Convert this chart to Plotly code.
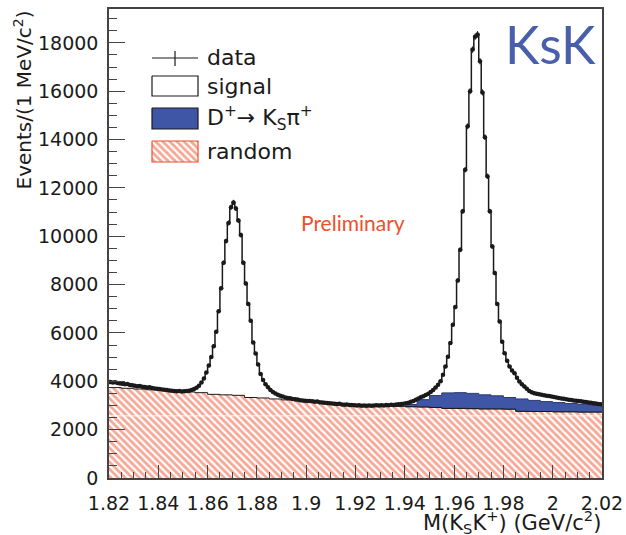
import numpy as np
import plotly.graph_objects as go

W, H = 626, 535

# Mass window and binning (GeV/c^2)
x_lo, x_hi = 1.82, 2.02
fine_width = 0.001      # 1 MeV bins for data / total fit
coarse_width = 0.005    # 5 MeV bins for the background components

# Data: events per 1 MeV bin, 1.820 ... 2.020
data_counts = [
    3970, 3950, 3960, 3930, 3910, 3900, 3880, 3890, 3850, 3840,
    3820, 3800, 3810, 3770, 3760, 3740, 3750, 3720, 3700, 3690,
    3680, 3660, 3650, 3640, 3620, 3610, 3600, 3590, 3600, 3580,
    3590, 3600, 3610, 3640, 3680, 3730, 3820, 3950, 4120, 4360,
    4650, 5000, 5450, 6050, 6900, 7850, 8900, 9800, 10550, 11200,
    11400, 11150, 10650, 10050, 8900, 8050, 7200, 6500, 5600, 5150,
    4700, 4300, 4050, 3880, 3750, 3640, 3560, 3500, 3440, 3400,
    3370, 3330, 3310, 3300, 3270, 3260, 3250, 3220, 3210, 3200,
    3190, 3180, 3170, 3150, 3160, 3130, 3120, 3110, 3100, 3090,
    3080, 3070, 3060, 3070, 3040, 3030, 3040, 3020, 3020, 3010,
    3000, 3010, 2990, 3000, 2990, 3000, 2990, 3000, 3010, 3000,
    3010, 3000, 3020, 3010, 3030, 3020, 3040, 3050, 3060, 3070,
    3090, 3110, 3150, 3190, 3240, 3290, 3340, 3380, 3430, 3490,
    3560, 3640, 3740, 3860, 4000, 4270, 4610, 5020, 5580, 6340,
    7070, 8170, 9440, 11030, 12750, 14550, 16000, 17720, 18250, 18350,
    17240, 15950, 14100, 12480, 11030, 9580, 8480, 7200, 6470, 5640,
    5160, 4850, 4610, 4450, 4330, 4150, 3990, 3880, 3780, 3690,
    3600, 3550, 3510, 3480, 3460, 3440, 3420, 3400, 3390, 3370,
    3350, 3330, 3310, 3290, 3280, 3260, 3240, 3230, 3210, 3200,
    3180, 3170, 3150, 3140, 3120, 3110, 3090, 3080, 3060, 3050,
]

# Random-combination background, 5 MeV bins from 1.820
random_counts = [
    3740, 3710, 3680, 3650, 3620, 3590, 3560, 3530,
    3460, 3440, 3420, 3330, 3310, 3270, 3230, 3190,
    3150, 3120, 3080, 3050, 3020, 3000, 2980, 2960,
    2950, 2940, 2920, 2880, 2880, 2870, 2860, 2860,
    2850, 2760, 2750, 2750, 2740, 2740, 2730, 2730,
]

# D+ -> Ks pi+ peaking background, 5 MeV bins from 1.940
dks_start = 1.94
dks_counts = [
    90, 300, 490, 640, 650, 630, 580, 540,
    480, 510, 460, 410, 380, 340, 320, 290,
]

x_ticks = [1.82, 1.84, 1.86, 1.88, 1.90, 1.92, 1.94, 1.96, 1.98, 2.00, 2.02]
y_ticks = [0, 2000, 4000, 6000, 8000, 10000, 12000, 14000, 16000, 18000]

# Colours
RED = "#ee4f2c"
BLUE = "#3f56a6"
INK = "#1a1a1a"
FRAME = "#444444"

FONT = "DejaVu Sans"
HATCH = dict(shape="\\", fgcolor=RED, bgcolor="white", size=5, solidity=0.55)


def px(x):
    return x / W


def py(y):
    return 1 - y / H


def step_xy(start, width, values):
    edges = start + width * np.arange(len(values) + 1)
    return edges, list(values) + [values[-1]]


data = np.array(data_counts, dtype=float)
centers = x_lo + fine_width * (np.arange(len(data)) + 0.5)

fig = go.Figure()

# Random background (hatched)
rx, ry = step_xy(x_lo, coarse_width, random_counts)
fig.add_trace(go.Scatter(
    x=rx, y=ry, mode="lines", line=dict(shape="hv", color=INK, width=1),
    fill="tozeroy", fillcolor="white", fillpattern=HATCH,
    showlegend=False, hoverinfo="skip",
))

# D+ -> Ks pi+ stacked on the random background
offset = int(round((dks_start - x_lo) / coarse_width))
base = np.array(random_counts[offset:offset + len(dks_counts)], dtype=float)
top = base + np.array(dks_counts, dtype=float)
bx, by = step_xy(dks_start, coarse_width, list(base))
tx, ty = step_xy(dks_start, coarse_width, list(top))
fig.add_trace(go.Scatter(
    x=bx, y=by, mode="lines", line=dict(shape="hv", color=INK, width=1),
    showlegend=False, hoverinfo="skip",
))
fig.add_trace(go.Scatter(
    x=tx, y=ty, mode="lines", line=dict(shape="hv", color="#2c3a70", width=1),
    fill="tonexty", fillcolor=BLUE, showlegend=False, hoverinfo="skip",
))

# Total (signal + backgrounds) histogram
sx, sy = step_xy(x_lo, fine_width, data_counts)
fig.add_trace(go.Scatter(
    x=sx, y=sy, mode="lines", line=dict(shape="hv", color=INK, width=1.5),
    showlegend=False, hoverinfo="skip",
))

# Data points with errors
fig.add_trace(go.Scatter(
    x=centers, y=data, mode="markers",
    marker=dict(color=INK, size=4.5, symbol="circle"),
    error_y=dict(type="data", array=np.sqrt(data), color=INK, thickness=1, width=0),
    error_x=dict(type="constant", value=fine_width / 2, color=INK, thickness=1, width=0),
    showlegend=False, hoverinfo="skip",
))

# Legend symbols, drawn in a pixel-space subplot
leg_x0, leg_x1 = 152, 198
boxes = [
    (76, 96, "white", None),
    (108, 129, BLUE, None),
    (141, 162, "white", RED),
]
fig.add_trace(go.Scatter(
    x=[leg_x0, leg_x1, None, 175, 175], y=[58, 58, None, 51, 66],
    mode="lines", line=dict(color=INK, width=1.2), xaxis="x2", yaxis="y2",
    showlegend=False, hoverinfo="skip",
))
for y0, y1, col, pat in boxes:
    kw = {}
    if pat:
        kw["fillpattern"] = HATCH
    fig.add_trace(go.Scatter(
        x=[leg_x0, leg_x1, leg_x1, leg_x0, leg_x0], y=[y0, y0, y1, y1, y0],
        mode="lines", fill="toself", fillcolor=col,
        line=dict(color=(RED if pat else INK), width=1.2),
        xaxis="x2", yaxis="y2", showlegend=False, hoverinfo="skip", **kw,
    ))

legend_labels = [
    (58, "data"),
    (86, "signal"),
    (118, "D<sup>+</sup>\u2192 K<sub>S</sub>\u03c0<sup>+</sup>"),
    (151, "random"),
]
annotations = []
for y, text in legend_labels:
    annotations.append(dict(
        x=px(205), y=py(y), xref="paper", yref="paper", text=text,
        xanchor="left", yanchor="middle", showarrow=False,
        font=dict(family=FONT, size=22, color=INK),
    ))

annotations += [
    dict(x=px(503), y=py(44), xref="paper", yref="paper", text="KsK",
         xanchor="left", yanchor="middle", showarrow=False,
         font=dict(family="Lato", size=52, color="#4a5fab")),
    dict(x=px(299), y=py(222), xref="paper", yref="paper", text="Preliminary",
         xanchor="left", yanchor="middle", showarrow=False,
         font=dict(family="Lato", size=21, color=RED)),
    dict(x=px(603), y=py(522), xref="paper", yref="paper",
         text="M(K<sub>S</sub>K<sup>+</sup>) (GeV/c<sup>2</sup>)",
         xanchor="right", yanchor="middle", showarrow=False,
         font=dict(family=FONT, size=21, color=INK)),
    dict(x=px(23), y=py(9), xref="paper", yref="paper",
         text="Events/(1 MeV/c<sup>2</sup>)", textangle=-90,
         xanchor="center", yanchor="top", showarrow=False,
         font=dict(family=FONT, size=20, color=INK)),
]

fig.update_layout(
    width=W, height=H,
    margin=dict(l=0, r=0, t=0, b=0, autoexpand=False),
    paper_bgcolor="white", plot_bgcolor="rgba(0,0,0,0)",
    showlegend=False,
    annotations=annotations,
    shapes=[
        # faint seam across the hatched fill
        dict(type="line", xref="x", yref="y", x0=x_lo, x1=x_hi, y0=2570, y1=2570,
             line=dict(color="rgba(255,255,255,0.85)", width=1), layer="above"),
    ],
    xaxis=dict(
        domain=[px(109), px(602)], range=[x_lo, x_hi], anchor="y",
        tickvals=x_ticks, ticktext=[f"{v:g}" for v in x_ticks],
        ticks="inside", ticklen=13, tickwidth=1.2, tickcolor=FRAME,
        minor=dict(dtick=0.005, tick0=x_lo, ticks="inside", ticklen=6, tickwidth=1, tickcolor=FRAME),
        showline=True, linecolor=FRAME, linewidth=1.5, mirror=True,
        showgrid=False, zeroline=False, ticklabelstandoff=7,
        tickfont=dict(family=FONT, size=19, color=INK),
    ),
    yaxis=dict(
        domain=[py(478), py(9)], range=[0, 19400], anchor="x",
        tickvals=y_ticks, ticktext=[str(v) for v in y_ticks],
        ticks="inside", ticklen=16, tickwidth=1.2, tickcolor=FRAME,
        minor=dict(dtick=500, tick0=0, ticks="inside", ticklen=8, tickwidth=1, tickcolor=FRAME),
        showline=True, linecolor=FRAME, linewidth=1.5, mirror=True,
        showgrid=False, zeroline=False, ticklabelstandoff=5,
        tickfont=dict(family=FONT, size=19, color=INK),
    ),
    xaxis2=dict(domain=[0, 1], range=[0, W], anchor="y2", visible=False, fixedrange=True),
    yaxis2=dict(domain=[0, 1], range=[H, 0], anchor="x2", visible=False, fixedrange=True),
)

fig.write_html("out.html")
